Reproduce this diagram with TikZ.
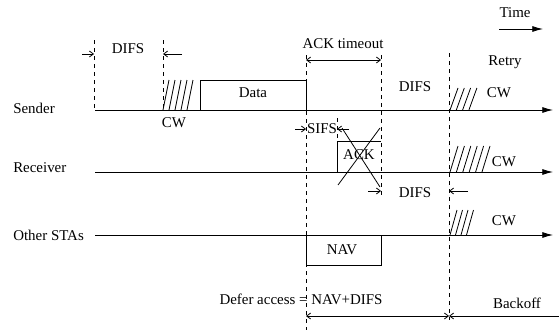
\documentclass[tikz,border=0pt]{standalone}
\usepackage{fontspec}
\setmainfont{Liberation Serif}
\usetikzlibrary{arrows.meta}
\tikzset{
LINE/.style ={draw=black,line width=0.6pt},
TIMELINE/.style ={LINE,-{Latex[length=8pt,width=4.5pt]}},
MARK/.style ={draw=black,line width=0.6pt,dash pattern=on 3pt off 3pt},
DIM/.style ={LINE,-{Straight Barb[length=3pt,width=4.5pt]}},
DIMBOTH/.style ={LINE,{Straight Barb[length=3pt,width=4.5pt]}-{Straight Barb[length=3pt,width=4.5pt]}},
BOX/.style ={draw=black,line width=0.65pt},
LABEL/.style ={inner sep=0pt,font=\fontsize{11.2}{13}\selectfont},
}

\begin{document}
\begin{tikzpicture}
[x=0.75pt, y=-0.75pt]
	\useasboundingbox (0,0) rectangle (559,332);
	% station rows
	\coordinate (sndL) at (95,110);
	\coordinate (sndR) at (553,110);
	\coordinate (rcvL) at (95,172);
	\coordinate (rcvR) at (553,172);
	\coordinate (staL) at (95,235);
	\coordinate (staR) at (553,235);
	\coordinate (timeL) at (499,29);
	\coordinate (timeR) at (543,29);
	\node[LABEL,anchor=west] (snd) at (13,108) {Sender};
	\node[LABEL,anchor=west] (rcv) at (13,168) {Receiver};
	\node[LABEL,anchor=west] (sta) at (13,235) {Other STAs};
	\path[TIMELINE] (sndL) -- (sndR);
	\path[TIMELINE] (rcvL) -- (rcvR);
	\path[TIMELINE] (staL) -- (staR);
	\path[TIMELINE] (timeL) -- (timeR);
	\node[LABEL] (time) at (515,13) {Time};
	% dashed time marks
	\path[MARK] (94,40) -- (94,110);
	\path[MARK] (163,40) -- (163,110);
	\path[MARK] (306,55) -- (306,330);
	\path[MARK] (337,118) -- (337,141);
	\path[MARK] (381,55) -- (381,197);
	\path[MARK] (449,53) -- (449,320);
	% frames
	\path[BOX] (200,110) -- (200,80) -- (306,80) -- (306,110);
	\path[BOX] (337,172) -- (337,141) -- (381,141);
	\path[BOX] (306,235) -- (306,265) -- (381,265) -- (381,235);
	\path[LINE] (342,128) -- (380,187);
	\path[LINE] (380,128) -- (338,185);
	\node[LABEL] (data) at (253,93) {Data};
	\node[LABEL] (ack) at (359,155) {ACK};
	\node[LABEL] (nav) at (342,250) {NAV};
	% contention windows
	\foreach \i in {0,...,4} \path[LINE] ({163+6*\i},110) -- ++(6,-30);
	\foreach \i in {0,...,3} \path[LINE] ({450+6.3*\i},110) -- ++(8,-22);
	\foreach \i in {0,...,5} \path[LINE] ({450+6.4*\i},172) -- ++(8,-26);
	\foreach \i in {0,...,3} \path[LINE] ({450+5.5*\i},235) -- ++(7,-25);
	\node[LABEL] (cwA) at (174,123) {CW};
	\node[LABEL] (cwB) at (499,93) {CW};
	\node[LABEL] (cwC) at (504,162) {CW};
	\node[LABEL] (cwD) at (504,221) {CW};
	% intervals
	\path[DIM] (82,54) -- (94,54);
	\path[DIM] (182,54) -- (163,54);
	\path[DIMBOTH] (306,60) -- (381,60);
	\path[DIM] (295,129) -- (306,129);
	\path[DIM] (349,129) -- (337,129);
	\path[DIM] (368,191) -- (381,191);
	\path[DIM] (468,191) -- (449,191);
	\path[DIMBOTH] (306,316) -- (449,316);
	\path[DIM] (559,316) -- (449,316);
	\node[LABEL] (difsA) at (128,49) {DIFS};
	\node[LABEL] (timeout) at (343,44) {ACK timeout};
	\node[LABEL] (retry) at (505,62) {Retry};
	\node[LABEL] (difsB) at (415,87) {DIFS};
	\node[LABEL] (sifs) at (322,129) {SIFS};
	\node[LABEL] (difsC) at (415,193) {DIFS};
	\node[LABEL] (defer) at (301,299) {Defer access = NAV+DIFS};
	\node[LABEL] (backoff) at (517,303) {Backoff};
\end{tikzpicture}
\end{document}
